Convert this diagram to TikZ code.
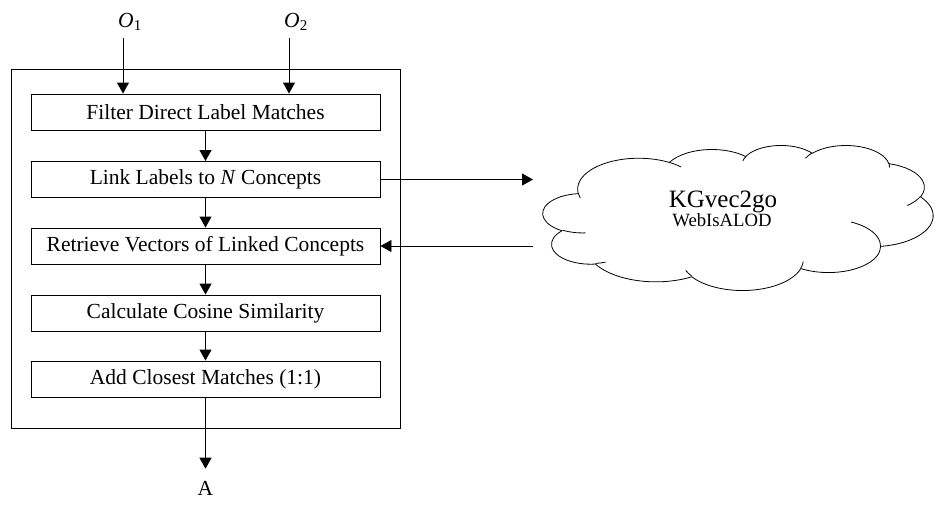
\documentclass[tikz,border=0pt]{standalone}
\usepackage{fontspec}
\setmainfont{Liberation Serif}
\usetikzlibrary{arrows.meta}
% convert an OOXML arc (visual angles) to parametric start/delta angles
\newcommand\ooconv[6]{% #1 start macro, #2 delta macro, #3 w, #4 h, #5 st, #6 sw
  \pgfmathsetmacro\ooT{atan2((#3)*sin(#5), (#4)*cos(#5))}%
  \pgfmathsetmacro\ooE{atan2((#3)*sin((#5)+(#6)), (#4)*cos((#5)+(#6)))}%
  \pgfmathsetmacro\ooD{\ooE-\ooT}%
  \pgfmathsetmacro\ooD{ifthenelse((#6)>0, ifthenelse(\ooD<0,\ooD+360,\ooD), ifthenelse(\ooD>0,\ooD-360,\ooD))}%
  \xdef#1{\ooT}\xdef#2{\ooD}}
\begin{document}
\begin{tikzpicture}[x=1pt,y=-1pt,
  thin line/.style={line width=0.9pt},
  stepbox/.style={draw, thin line, minimum width=349pt, minimum height=36pt, inner sep=0pt,
    font=\fontsize{21.5}{24}\selectfont},
  arr/.style={-{Triangle[width=12pt,length=11pt]}, thin line},
  lbl/.style={font=\fontsize{21.5}{24}\selectfont, inner sep=0pt},
  cloudline/.style={line width=0.8pt, line join=round}]
\useasboundingbox (0,0) rectangle (943,506);
\node[draw, thin line, minimum width=389pt, minimum height=359pt, inner sep=0pt] (outer) at (205.5,248.5) {};
\node[stepbox] (b1) at (205.5,112) {Filter Direct Label Matches};
\node[stepbox] (b2) at (205.5,179.5) {Link Labels to \textit{N} Concepts};
\node[stepbox] (b3) at (205.5,246) {Retrieve Vectors of Linked Concepts};
\node[stepbox] (b4) at (205.5,313) {Calculate Cosine Similarity};
\node[stepbox] (b5) at (205.5,379) {Add Closest Matches (1:1)};
\node[lbl] (o1) at (130,22) {\textit{O}\textsubscript{1}};
\node[lbl] (o2) at (296,22) {\textit{O}\textsubscript{2}};
\coordinate (o1in) at (123,38);
\coordinate (o2in) at (289,38);
\node[lbl] (A) at (205.5,488) {A};
\draw[arr] (o1in) -- (o1in |- b1.north);
\draw[arr] (o2in) -- (o2in |- b1.north);
\draw[arr] (b1) -- (b2);
\draw[arr] (b2) -- (b3);
\draw[arr] (b3) -- (b4);
\draw[arr] (b4) -- (b5);
\draw[arr, shorten >=12pt] (b5.south) -- (A.north);
% cloud (Office-style cloud outline)
\ooconv\cloudas\cloudad{67.53}{91.90}{-190.4875}{123.7805}
\ooconv\cloudbs\cloudbd{53.33}{72.67}{-144.1024}{89.9452}
\ooconv\cloudcs\cloudcd{43.65}{59.45}{-145.8079}{99.7230}
\ooconv\cloudds\clouddd{48.57}{65.95}{-130.9861}{117.2417}
\ooconv\cloudes\cloudedd{53.33}{72.73}{-78.7089}{109.0269}
\ooconv\cloudfs\cloudfd{67.75}{92.20}{-46.2673}{130.2690}
\ooconv\cloudgs\cloudgd{57.85}{78.67}{0.6250}{114.0333}
\ooconv\cloudhs\cloudhd{67.52}{92.15}{22.4516}{115.1726}
\ooconv\cloudis\cloudid{77.20}{105.43}{66.2426}{75.7110}
\ooconv\cloudjs\cloudjd{43.60}{59.18}{-274.9421}{146.7356}
\ooconv\cloudks\cloudkd{43.45}{59.45}{-246.8285}{152.5189}
\ooconv\innas\innad{43.45}{59.45}{86.742}{26.430}
\ooconv\innbs\innbd{43.60}{59.18}{73.610}{11.447}
\ooconv\inncs\inncd{67.52}{92.15}{137.624}{14.081}
\ooconv\innds\inndd{67.52}{92.15}{6.453}{15.998}
\ooconv\innes\innedd{57.85}{78.67}{-70.292}{70.917}
\ooconv\innfs\innfd{53.33}{72.73}{30.318}{27.752}
\ooconv\inngs\inngd{48.57}{65.95}{-13.744}{14.859}
\ooconv\innhs\innhd{48.57}{65.95}{-149.181}{18.195}
\ooconv\innis\innid{43.65}{59.45}{-163.494}{17.686}
\ooconv\innjs\innjd{67.53}{91.90}{-66.707}{12.319}
\ooconv\innks\innkd{67.53}{91.90}{157.654}{11.858}
\begin{scope}[shift={(543,145)}, xscale=0.90278, yscale=-0.335648]
\draw[cloudline] (39.00pt,143.70pt)
  arc[start angle=\cloudas, delta angle=\cloudad, x radius=67.53pt, y radius=91.90pt]
  arc[start angle=\cloudbs, delta angle=\cloudbd, x radius=53.33pt, y radius=72.67pt]
  arc[start angle=\cloudcs, delta angle=\cloudcd, x radius=43.65pt, y radius=59.45pt]
  arc[start angle=\cloudds, delta angle=\clouddd, x radius=48.57pt, y radius=65.95pt]
  arc[start angle=\cloudes, delta angle=\cloudedd, x radius=53.33pt, y radius=72.73pt]
  arc[start angle=\cloudfs, delta angle=\cloudfd, x radius=67.75pt, y radius=92.20pt]
  arc[start angle=\cloudgs, delta angle=\cloudgd, x radius=57.85pt, y radius=78.67pt]
  arc[start angle=\cloudhs, delta angle=\cloudhd, x radius=67.52pt, y radius=92.15pt]
  arc[start angle=\cloudis, delta angle=\cloudid, x radius=77.20pt, y radius=105.43pt]
  arc[start angle=\cloudjs, delta angle=\cloudjd, x radius=43.60pt, y radius=59.18pt]
  arc[start angle=\cloudks, delta angle=\cloudkd, x radius=43.45pt, y radius=59.45pt]
  -- cycle;
\draw[cloudline]
  (46.93pt,261.77pt) arc[start angle=\innas, delta angle=\innad, x radius=43.45pt, y radius=59.45pt]
  (69.28pt,348.99pt) arc[start angle=\innbs, delta angle=\innbd, x radius=43.60pt, y radius=59.18pt]
  (164.78pt,390.90pt) arc[start angle=\inncs, delta angle=\inncd, x radius=67.52pt, y radius=92.15pt]
  (288.27pt,347.51pt) arc[start angle=\innds, delta angle=\inndd, x radius=67.52pt, y radius=92.15pt]
  (341.29pt,229.54pt) arc[start angle=\innes, delta angle=\innedd, x radius=57.85pt, y radius=78.67pt]
  (417.98pt,153.54pt) arc[start angle=\innfs, delta angle=\innfd, x radius=53.33pt, y radius=72.73pt]
  (383.24pt,54.26pt) arc[start angle=\inngs, delta angle=\inngd, x radius=48.57pt, y radius=65.95pt]
  (290.78pt,39.52pt) arc[start angle=\innhs, delta angle=\innhd, x radius=48.57pt, y radius=65.95pt]
  (221.41pt,47.20pt) arc[start angle=\innis, delta angle=\innid, x radius=43.65pt, y radius=59.45pt]
  (140.00pt,51.92pt) arc[start angle=\innjs, delta angle=\innjd, x radius=67.53pt, y radius=91.90pt]
  (41.27pt,157.89pt) arc[start angle=\innks, delta angle=\innkd, x radius=67.53pt, y radius=91.90pt];
\end{scope}
\node[anchor=base, inner sep=0pt, font=\fontsize{25}{28}\selectfont] (kgname) at (723,207) {KGvec2go};
\node[anchor=base, inner sep=0pt, font=\fontsize{18.7}{21}\selectfont] (kgsub) at (722,226) {WebIsALOD};
\coordinate (cin) at (533,217);
\draw[arr] (b2.east) -- (b2.east -| cin);
\draw[arr] (b3.east -| cin) -- (b3.east);
\end{tikzpicture}
\end{document}
